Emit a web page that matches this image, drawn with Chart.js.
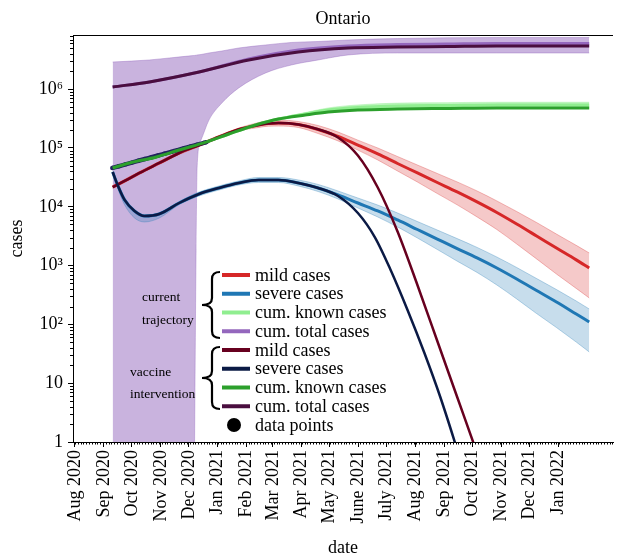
<!DOCTYPE html>
<html>
<head>
<meta charset="utf-8">
<title>Ontario</title>
<script src="https://cdn.jsdelivr.net/npm/chart.js@4.4.1/dist/chart.umd.min.js"></script>
<style>
  html, body { margin: 0; padding: 0; background: #fff; }
  #wrap { width: 617px; height: 557px; }
</style>
</head>
<body>
<div id="wrap"><canvas id="chart" width="617" height="557"></canvas></div>
<script>
// x values are days since 1 Aug 2020
const monthTicks = [0, 31, 61, 92, 122, 153, 184, 212, 243, 273, 304, 334, 365, 396, 426, 457, 487, 518];
const monthLabels = ['Aug 2020', 'Sep 2020', 'Oct 2020', 'Nov 2020', 'Dec 2020', 'Jan 2021', 'Feb 2021',
  'Mar 2021', 'Apr 2021', 'May 2021', 'June 2021', 'July 2021', 'Aug 2021', 'Sep 2021', 'Oct 2021',
  'Nov 2021', 'Dec 2021', 'Jan 2022'];
const yTicks = [1, 10, 100, 1e3, 1e4, 1e5, 1e6];
const yTickLabels = ['1', '10', '10²', '10³', '10⁴', '10⁵', '10⁶'];

// current trajectory: mild cases (line + band)
const mildDays = [40.4, 53.2, 69.1, 90.4, 111.7, 133.0, 154.3, 175.5, 196.8, 207.4, 218.1, 239.4, 260.6, 281.9,
  303.2, 324.5, 345.7, 367.0, 388.3, 409.6, 430.9, 452.1, 473.4, 494.7, 516.0, 537.2, 551.1];
const mildCur = [21700, 27500, 37600, 55600, 82200, 112000, 154000, 206000, 246000, 261000, 266000, 251000,
  206000, 157000, 112000, 79100, 54500, 37600, 25900, 17900, 12100, 8000, 5100, 3190, 1990, 1250, 911];
const mildCurHi = [23000, 29200, 39900, 58900, 87100, 118700, 163200, 218400, 271000, 290000, 299000, 282000,
  241000, 187000, 136000, 100000, 71700, 51400, 36900, 26500, 18600, 12600, 8320, 5410, 3440, 2210, 1640];
const mildCurLo = [20500, 25900, 35500, 52500, 77500, 105700, 145300, 194300, 223000, 235000, 236000, 223000,
  176000, 132000, 92100, 62500, 40600, 26400, 16800, 10800, 6730, 4110, 2330, 1300, 719, 409, 282];

// current trajectory: severe cases (line + band)
const severeDays = [40.4, 45.7, 53.2, 63.8, 74.5, 90.4, 111.7, 133.0, 154.3, 175.5, 196.8, 218.1, 239.4, 260.6,
  281.9, 303.2, 324.5, 345.7, 367.0, 388.3, 409.6, 430.9, 452.1, 473.4, 494.7, 516.0, 537.2, 551.1];
const severeCur = [39100, 23500, 13100, 8490, 6980, 7550, 11600, 16500, 20900, 25400, 28600, 28600, 25400, 20900,
  15900, 11600, 8490, 5970, 4110, 2830, 1950, 1350, 911, 592, 377, 240, 150, 110];
const severeCurHi = [40700, 24400, 13600, 8830, 7260, 7850, 12300, 17800, 22600, 27500, 31500, 31500, 28600, 24000,
  18600, 14100, 10700, 7850, 5620, 4030, 2880, 2040, 1400, 929, 603, 392, 250, 183];
const severeCurLo = [37600, 20900, 10800, 6460, 5520, 6450, 10900, 15300, 19300, 23500, 25900, 25900, 22600, 18200,
  13600, 9540, 6710, 4540, 2950, 1880, 1190, 765, 468, 271, 153, 88.5, 50.1, 34.0];

// vaccine intervention: mild and severe cases
const mildVacDays = [40.4, 53.2, 69.1, 90.4, 111.7, 133.0, 154.3, 175.5, 196.8, 207.4, 218.1, 239.4, 260.6, 281.9,
  303.2, 324.5, 345.7, 367.0, 388.3, 409.6, 427.7, 441.5];
const mildVac = [21700, 27500, 37600, 55600, 82200, 112000, 154000, 206000, 246000, 261000, 266000, 251000,
  208000, 151000, 74500, 21300, 3800, 468, 52.2, 5.82, 0.903, 0.217];
const severeVacDays = [40.4, 45.7, 53.2, 63.8, 74.5, 90.4, 111.7, 133.0, 154.3, 175.5, 196.8, 218.1, 239.4, 260.6,
  281.9, 303.2, 321.3, 338.3, 356.4, 374.5, 391.5, 406.4, 420.2];
const severeVac = [39100, 23500, 13100, 8490, 6980, 7550, 11600, 16500, 20900, 25400, 28600, 28600, 25400, 20900,
  15300, 7850, 3060, 842, 176, 32.6, 5.82, 1.08, 0.209];

// cumulative known cases
const knownDays = [40.4, 58.5, 87.2, 111.7, 140.4, 164.9, 193.6, 218.1, 246.8, 271.3, 303.2, 345.7, 398.9, 452.1, 551.1];
const knownVac = [45700, 55600, 70300, 92500, 126000, 173000, 246000, 311000, 364000, 409000, 443000, 460000, 470000, 479000, 479000];
const knownCur = [45700, 55600, 70300, 92500, 126000, 173000, 246000, 311000, 379000, 443000, 489000, 518000, 528000, 538000, 538000];
const knownCurHi = [46500, 56600, 71500, 94100, 128000, 176000, 250000, 320000, 400000, 480000, 540000, 580000, 590000, 600000, 600000];
const knownCurLo = [45000, 54600, 69100, 90900, 124000, 170000, 242000, 302000, 358000, 410000, 440000, 460000, 470000, 478000, 478000];

// cumulative total cases
const totalDays = [40.4, 79.8, 133.0, 186.2, 239.4, 292.6, 345.7, 398.9, 452.1, 551.1];
const totalVac = [1.09e6, 1.33e6, 1.96e6, 3.14e6, 4.29e6, 5.02e6, 5.22e6, 5.32e6, 5.43e6, 5.43e6];
const totalCur = [1.09e6, 1.33e6, 1.96e6, 3.26e6, 4.64e6, 5.43e6, 5.75e6, 5.87e6, 5.99e6, 5.99e6];
const totalBandDays = [40.4, 79.8, 127.1, 128.2, 129.8, 130.9, 135.1, 143.6, 157.4, 175.5, 204.3, 231.9, 260.6,
  292.6, 345.7, 452.1, 551.1];
const totalCurHi = [2.90e6, 3.14e6, 3.74e6, 3.75e6, 3.78e6, 3.82e6, 3.89e6, 4.13e6, 4.46e6, 5.02e6, 5.65e6, 6.23e6,
  6.47e6, 6.87e6, 7.28e6, 7.57e6, 7.57e6];
const totalCurLo = [0.001, 0.001, 0.001, 1, 1840, 47500, 137000, 299000, 582000, 1.05e6, 1.89e6, 2.58e6, 3.14e6,
  3.82e6, 4.13e6, 4.13e6, 4.13e6];

// reported data points (cum. known cases)
const dataDays = [40, 47, 54, 61, 68, 75, 82, 89, 96, 103, 110, 117, 124, 131, 138, 141];
const dataCases = [45700, 49000, 52600, 56400, 60600, 65000, 69500, 74500, 80000, 85900, 92100, 98900, 106000,
  114000, 122000, 126000];

const legendCurrent = ['mild cases', 'severe cases', 'cum. known cases', 'cum. total cases'];
const legendVaccine = ['mild cases', 'severe cases', 'cum. known cases', 'cum. total cases'];

const C = {
  red: '#d62728', blue: '#1f77b4', lightGreen: '#90ee90', purple: '#9467bd',
  maroon: '#67001f', navy: '#0b1a45', green: '#2ca02c', plum: '#4a0e3f'
};

const pts = (xs, ys) => xs.map((x, i) => ({ x, y: ys[i] }));

function line(label, xs, ys, color, width) {
  return {
    label, data: pts(xs, ys), borderColor: color, borderWidth: width,
    pointRadius: 0, fill: false, tension: 0.4, cubicInterpolationMode: 'monotone'
  };
}

function band(xs, hi, lo, fillColor, edgeColor) {
  return [
    { label: 'hi', data: pts(xs, hi), borderColor: edgeColor, borderWidth: 1, backgroundColor: fillColor,
      pointRadius: 0, fill: '+1', tension: 0.4, cubicInterpolationMode: 'monotone' },
    { label: 'lo', data: pts(xs, lo), borderColor: edgeColor, borderWidth: 1,
      pointRadius: 0, fill: false, tension: 0.4, cubicInterpolationMode: 'monotone' }
  ];
}

function brace(ctx, xTip, xEnd, top, bottom) {
  const xm = (xTip + xEnd) / 2 + 1;
  const mid = (top + bottom) / 2;
  const r = 7;
  ctx.beginPath();
  ctx.moveTo(xEnd, top);
  ctx.quadraticCurveTo(xm, top, xm, top + r);
  ctx.lineTo(xm, mid - r);
  ctx.quadraticCurveTo(xm, mid, xTip, mid);
  ctx.quadraticCurveTo(xm, mid, xm, mid + r);
  ctx.lineTo(xm, bottom - r);
  ctx.quadraticCurveTo(xm, bottom, xEnd, bottom);
  ctx.stroke();
}

const decorations = {
  id: 'decorations',
  afterDraw(chart) {
    const { ctx, chartArea: a, scales: { x, y } } = chart;
    ctx.save();
    ctx.strokeStyle = '#000';
    ctx.lineWidth = 1;
    ctx.beginPath();
    ctx.moveTo(a.left, a.top + 0.5);
    ctx.lineTo(a.right, a.top + 0.5);
    // minor ticks
    for (let e = 0; e <= 6; e++) {
      for (let m = 2; m <= 9; m++) {
        const v = m * Math.pow(10, e);
        if (v > y.max) continue;
        const py = Math.round(y.getPixelForValue(v)) + 0.5;
        ctx.moveTo(a.left - 3, py);
        ctx.lineTo(a.left, py);
      }
    }
    for (let d = 0; d <= x.max; d += 3) {
      const px = Math.round(x.getPixelForValue(d)) + 0.5;
      ctx.moveTo(px, a.bottom);
      ctx.lineTo(px, a.bottom + 2.5);
    }
    ctx.stroke();

    // legend
    const colors = [C.red, C.blue, C.lightGreen, C.purple, C.maroon, C.navy, C.green, C.plum];
    const labels = legendCurrent.concat(legendVaccine);
    ctx.font = '18px "Liberation Serif"';
    ctx.textBaseline = 'middle';
    ctx.textAlign = 'left';
    ctx.fillStyle = '#000';
    for (let i = 0; i < 9; i++) {
      const yy = 275 + i * 18.75;
      if (i < 8) {
        ctx.strokeStyle = colors[i];
        ctx.lineWidth = 4;
        ctx.beginPath();
        ctx.moveTo(222, yy);
        ctx.lineTo(250, yy);
        ctx.stroke();
        ctx.fillText(labels[i], 255, yy + 1);
      } else {
        ctx.beginPath();
        ctx.arc(234, yy, 7, 0, 2 * Math.PI);
        ctx.fill();
        ctx.fillText('data points', 255, yy + 1);
      }
    }
    ctx.strokeStyle = '#000';
    ctx.lineWidth = 2.2;
    brace(ctx, 202, 220, 272, 338);
    brace(ctx, 202, 220, 347, 409);

    ctx.font = '13.5px "Liberation Serif"';
    ctx.fillText('current', 142, 297);
    ctx.fillText('trajectory', 142, 320);
    ctx.fillText('vaccine', 130, 372);
    ctx.fillText('intervention', 130, 394);
    ctx.restore();
  }
};

Chart.defaults.font.family = '"Liberation Serif", "Times New Roman", serif';
Chart.defaults.color = '#000';

const datasets = [
  line('cum. total cases (vaccine)', totalDays, totalVac, C.plum, 3),
  line('cum. known cases (vaccine)', knownDays, knownVac, C.green, 3),
  line('severe cases (vaccine)', severeVacDays, severeVac, C.navy, 2.5),
  line('mild cases (vaccine)', mildVacDays, mildVac, C.maroon, 2.5),
  { label: 'data points', data: pts(dataDays, dataCases), borderColor: '#23245f', backgroundColor: '#23245f',
    borderWidth: 4.5, pointRadius: 2.2, pointBorderWidth: 0, fill: false, tension: 0.4, cubicInterpolationMode: 'monotone' },
  line('cum. known cases', knownDays, knownCur, C.lightGreen, 3),
  line('cum. total cases', totalDays, totalCur, C.purple, 3),
  line('mild cases', mildDays, mildCur, C.red, 3),
  line('severe cases', severeDays, severeCur, C.blue, 3),
  ...band(mildDays, mildCurHi, mildCurLo, 'rgba(214,39,40,0.25)', 'rgba(214,39,40,0.3)'),
  ...band(severeDays, severeCurHi, severeCurLo, 'rgba(31,119,180,0.25)', 'rgba(31,119,180,0.3)'),
  ...band(knownDays, knownCurHi, knownCurLo, 'rgba(144,238,144,0.55)', 'rgba(144,238,144,0.4)'),
  ...band(totalBandDays, totalCurHi, totalCurLo, 'rgba(148,103,189,0.5)', 'rgba(148,103,189,0.4)')
];

new Chart(document.getElementById('chart'), {
  type: 'line',
  data: { datasets },
  options: {
    responsive: false,
    animation: false,
    layout: { padding: 0 },
    plugins: {
      legend: { display: false },
      tooltip: { enabled: false },
      title: {
        display: true, text: 'Ontario', fullSize: false, color: '#000',
        font: { size: 18, weight: 'normal' }, padding: { top: 8, bottom: 5.4 }
      }
    },
    scales: {
      x: {
        type: 'linear', min: -2.1, max: 576.6,
        afterBuildTicks: s => { s.ticks = monthTicks.map(v => ({ value: v })); },
        afterFit: s => { s.height = 115; },
        grid: { drawOnChartArea: false, drawTicks: true, tickLength: 5, color: '#000', tickColor: '#000' },
        border: { color: '#000', width: 1 },
        ticks: {
          color: '#000', font: { size: 18 }, padding: 3, autoSkip: false,
          maxRotation: 90, minRotation: 90, callback: (v, i) => monthLabels[i]
        },
        title: { display: true, text: 'date', color: '#000', font: { size: 18 }, padding: { top: 0, bottom: -2 } }
      },
      y: {
        type: 'logarithmic', min: 1, max: 8.35e6,
        afterBuildTicks: s => { s.ticks = yTicks.map(v => ({ value: v, major: true })); },
        afterFit: s => { s.width = 73; },
        grid: { drawOnChartArea: false, drawTicks: true, tickLength: 5, color: '#000', tickColor: '#000' },
        border: { color: '#000', width: 1 },
        ticks: { color: '#000', font: { size: 18 }, padding: 5, autoSkip: false, callback: (v, i) => yTickLabels[i] },
        title: { display: true, text: 'cases', color: '#000', font: { size: 18 }, padding: { top: 6, bottom: 0 } }
      }
    }
  },
  plugins: [decorations]
});
</script>
</body>
</html>
